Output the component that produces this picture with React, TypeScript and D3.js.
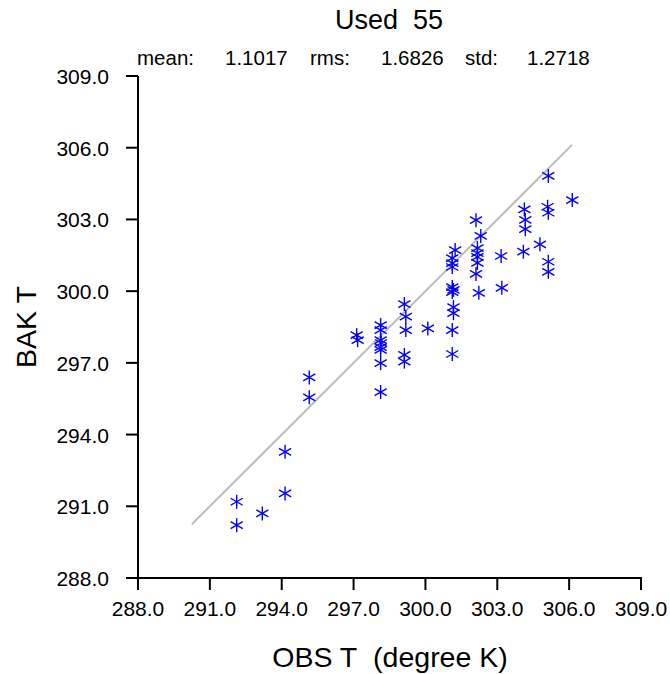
import React from 'react';
import * as d3 from 'd3';

const obsT = [
  292.12, 292.12, 293.19, 294.14, 294.14, 295.15, 295.15,
  297.13, 297.17,
  298.13, 298.13, 298.13, 298.15, 298.13, 298.13, 298.13, 298.13,
  299.12, 299.18, 299.18, 299.12, 299.12,
  300.10,
  301.24, 301.12, 301.12, 301.12, 301.12, 301.17, 301.12, 301.17, 301.17, 301.12, 301.12,
  302.11, 302.31, 302.17, 302.17, 302.17, 302.17, 302.11, 302.23,
  303.16, 303.19,
  304.13, 304.17, 304.17, 304.09,
  304.78,
  305.13, 305.10, 305.13, 305.13, 305.13,
  306.13,
];
const bakT = [
  291.19, 290.21, 290.70, 293.28, 291.54, 296.39, 295.56,
  298.16, 297.95,
  298.58, 298.37, 297.95, 297.83, 297.66, 297.54, 296.99, 295.78,
  299.46, 298.93, 298.37, 297.33, 297.05,
  298.44,
  301.72, 301.38, 301.17, 301.01, 300.17, 300.05, 299.96, 299.33, 299.08, 298.37, 297.37,
  302.97, 302.31, 301.80, 301.59, 301.43, 301.18, 300.72, 299.93,
  301.47, 300.14,
  303.42, 302.98, 302.59, 301.65,
  301.96,
  304.82, 303.53, 303.28, 301.23, 300.81,
  303.81,
];
const tickValues = [288, 291, 294, 297, 300, 303, 306, 309];
const diagRange = [290.25, 306.12];

const W = 670;
const H = 674;
const margin = { left: 138, right: 29, top: 76, bottom: 96 };
const font = '"Liberation Sans", Arial, Helvetica, sans-serif';

const Asterisk: React.FC<{ x: number; y: number }> = ({ x, y }) => {
  const r = 7;
  const arms = [90, 30, 150].map(a => {
    const t = (a * Math.PI) / 180;
    return [Math.cos(t) * r, Math.sin(t) * r];
  });
  return (
    <g transform={`translate(${x},${y})`} stroke="#0000ff" strokeWidth={1.4}>
      {arms.map(([dx, dy], i) => (
        <line key={i} x1={-dx} y1={-dy} x2={dx} y2={dy} />
      ))}
    </g>
  );
};

export default function App() {
  const x = d3.scaleLinear().domain([288, 309]).range([margin.left, W - margin.right]);
  const y = d3.scaleLinear().domain([288, 309]).range([H - margin.bottom, margin.top]);
  const fmt = d3.format('.1f');

  return (
    <svg
      width={W}
      height={H}
      style={{ position: 'absolute', left: 0, top: 0, background: '#fff' }}
      fontFamily={font}
    >
      <text x={389} y={29} textAnchor="middle" fontSize={27}>{'Used\u00A0 55'}</text>
      <text y={65} fontSize={20.5}>
        <tspan x={137}>mean:</tspan>
        <tspan x={225}>1.1017</tspan>
        <tspan x={310}>rms:</tspan>
        <tspan x={381}>1.6826</tspan>
        <tspan x={465}>std:</tspan>
        <tspan x={527}>1.2718</tspan>
      </text>

      {/* 1:1 reference line */}
      <line
        x1={x(diagRange[0])} y1={y(diagRange[0])}
        x2={x(diagRange[1])} y2={y(diagRange[1])}
        stroke="#bdbdbd" strokeWidth={2}
      />

      {obsT.map((o, i) => (
        <Asterisk key={i} x={x(o)} y={y(bakT[i])} />
      ))}

      {/* axes */}
      <g stroke="#000" strokeWidth={2}>
        <line x1={margin.left} x2={margin.left} y1={y(309)} y2={y(288) + 1} />
        <line x1={margin.left - 1} x2={x(309) + 1} y1={y(288)} y2={y(288)} />
        {tickValues.map(t => (
          <line key={'xt' + t} x1={x(t)} x2={x(t)} y1={y(288)} y2={y(288) + 12} />
        ))}
        {tickValues.map(t => (
          <line key={'yt' + t} x1={margin.left - 12} x2={margin.left} y1={y(t)} y2={y(t)} />
        ))}
      </g>
      {tickValues.map(t => (
        <text key={'xl' + t} x={x(t)} y={616} textAnchor="middle" fontSize={21}>{fmt(t)}</text>
      ))}
      {tickValues.map(t => (
        <text key={'yl' + t} x={109} y={y(t) + 8} textAnchor="end" fontSize={21}>{fmt(t)}</text>
      ))}

      <text x={390} y={667} textAnchor="middle" fontSize={28.5}>{'OBS T\u00A0 (degree K)'}</text>
      <text transform={`translate(36,${(y(288) + y(309)) / 2}) rotate(-90)`} textAnchor="middle" fontSize={28.5}>BAK T</text>
    </svg>
  );
}
